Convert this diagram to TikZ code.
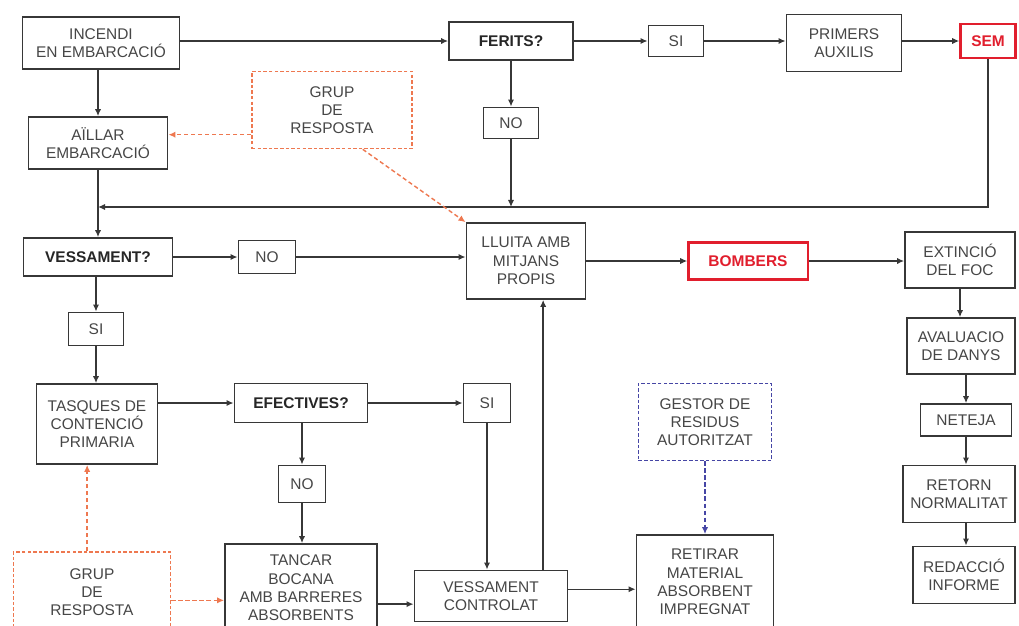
\documentclass[tikz,border=0pt]{standalone}
\usepackage{fontspec}
\setmainfont{Liberation Sans}
\usepackage{xcolor}
\usepackage{tikz}
\usetikzlibrary{arrows.meta, positioning, calc}
\definecolor{boxgray}{RGB}{55, 55, 55}
\definecolor{txtgray}{RGB}{70, 70, 70}
\definecolor{alertred}{RGB}{225, 30, 45}
\definecolor{grouporange}{RGB}{238, 120, 80}
\definecolor{gestorblue}{RGB}{70, 70, 165}
\tikzstyle{box} = [draw=boxgray, line width=1.2pt, fill=white, align=center, inner sep=2pt, text=txtgray, font=\fontsize{11}{13}\selectfont]
\tikzstyle{question} = [box, font=\fontsize{11}{13}\selectfont\bfseries, text=black!85]
\tikzstyle{alert} = [box, draw=alertred, line width=1.6pt, text=alertred, font=\fontsize{11}{13}\selectfont\bfseries]
\tikzstyle{group} = [box, draw=grouporange, line width=1pt, dash pattern=on 2.5pt off 1.5pt]
\tikzstyle{gestor} = [box, draw=gestorblue, line width=1pt, dash pattern=on 2.5pt off 1.5pt]
\tikzstyle{arrow} = [-{Latex[length=5pt, width=4.5pt]}, line width=1pt, draw=boxgray]
\tikzstyle{dasharrow} = [-{Latex[length=5pt, width=4.5pt]}, line width=1pt, draw=grouporange, dash pattern=on 3pt off 2pt]
\tikzstyle{bluearrow} = [-{Latex[length=5pt, width=4.5pt]}, line width=1pt, draw=gestorblue, dash pattern=on 3pt off 2pt]

\begin{document}
\begin{tikzpicture}[x=0.025cm, y=-0.025cm]
    \useasboundingbox[fill=white] (0,0) rectangle (1019,625);

    % Top row
    \node[box, minimum width=3.93cm, minimum height=1.3cm] (incendi) at (101,43) {INCENDI\\EN EMBARCACIÓ};
    \node[question, minimum width=3.1cm, minimum height=0.95cm] (ferits) at (511,41) {FERITS?};
    \node[box, minimum width=1.38cm, minimum height=0.78cm] (si1) at (676,41) {SI};
    \node[box, minimum width=2.88cm, minimum height=1.43cm] (primers) at (844,43) {PRIMERS\\AUXILIS};
    \node[alert, minimum width=1.38cm, minimum height=0.85cm] (sem) at (988,41) {SEM};

    \node[group, minimum width=4cm, minimum height=1.93cm] (grup1) at (332,110) {GRUP\\DE\\RESPOSTA};
    \node[box, minimum width=3.48cm, minimum height=1.3cm] (aillar) at (98,143) {AÏLLAR\\EMBARCACIÓ};
    \node[box, minimum width=1.38cm, minimum height=0.78cm] (no1) at (511,123) {NO};
    \coordinate (join) at (98,207);

    % Middle row
    \node[question, minimum width=3.73cm, minimum height=0.95cm] (vessament) at (98,257) {VESSAMENT?};
    \node[box, minimum width=1.43cm, minimum height=0.83cm] (no2) at (267,257) {NO};
    \node[box, minimum width=2.98cm, minimum height=1.9cm] (lluita) at (526,261) {LLUITA AMB\\MITJANS\\PROPIS};
    \node[alert, minimum width=2.98cm, minimum height=0.93cm] (bombers) at (748,261) {BOMBERS};
    \node[box, minimum width=2.75cm, minimum height=1.4cm] (extincio) at (960,260) {EXTINCIÓ\\DEL FOC};
    \node[box, minimum width=2.7cm, minimum height=1.4cm] (avaluacio) at (961,346) {AVALUACIO\\DE DANYS};
    \node[box, minimum width=2.28cm, minimum height=0.8cm] (neteja) at (966,420) {NETEJA};
    \node[box, minimum width=2.8cm, minimum height=1.43cm] (retorn) at (959,494) {RETORN\\NORMALITAT};
    \node[box, minimum width=2.55cm, minimum height=1.43cm] (redaccio) at (964,575) {REDACCIÓ\\INFORME};

    % Spill branch
    \node[box, minimum width=1.38cm, minimum height=0.83cm] (si2) at (96,329) {SI};
    \node[box, minimum width=3.03cm, minimum height=2cm] (tasques) at (97,424) {TASQUES DE\\CONTENCIÓ\\PRIMARIA};
    \node[question, minimum width=3.33cm, minimum height=0.98cm] (efectives) at (301,403) {EFECTIVES?};
    \node[box, minimum width=1.18cm, minimum height=0.98cm] (si3) at (487,403) {SI};
    \node[box, minimum width=1.18cm, minimum height=0.93cm] (no3) at (302,484) {NO};
    \node[gestor, minimum width=3.33cm, minimum height=1.93cm] (gestor) at (705,422) {GESTOR DE\\RESIDUS\\AUTORITZAT};

    % Bottom row
    \node[group, minimum width=3.93cm, minimum height=2cm] (grup2) at (92,592) {GRUP\\DE\\RESPOSTA};
    \node[box, minimum width=3.8cm, minimum height=2.2cm] (tancar) at (301,588) {TANCAR\\BOCANA\\AMB BARRERES\\ABSORBENTS};
    \node[box, minimum width=3.83cm, minimum height=1.28cm] (vcontrolat) at (491,596) {VESSAMENT\\CONTROLAT};
    \node[box, minimum width=3.43cm, minimum height=2.35cm] (retirar) at (705,582) {RETIRAR\\MATERIAL\\ABSORBENT\\IMPREGNAT};

    % Connectors
    \draw[arrow] (incendi.east |- ferits) -- (ferits.west);
    \draw[arrow] (ferits) -- (si1);
    \draw[arrow] (si1) -- (primers.west |- si1);
    \draw[arrow] (primers.east |- sem) -- (sem);
    \draw[arrow] (incendi.south -| aillar) -- (aillar);
    \draw[arrow] (ferits) -- (no1);
    \draw[arrow] (no1.south) -- (no1.south |- join);
    \draw[arrow] (sem.south) |- (join);
    \draw[arrow] (aillar) -- (vessament);
    \draw[dasharrow] (grup1.197) -- (grup1.197 -| aillar.east);
    \draw[dasharrow] (grup1.308) -- (lluita.north west);

    \draw[arrow] (vessament) -- (no2);
    \draw[arrow] (no2) -- (no2 -| lluita.west);
    \draw[arrow] (lluita) -- (bombers);
    \draw[arrow] (bombers) -- (bombers -| extincio.west);
    \draw[arrow] (extincio) -- (extincio.south |- avaluacio.north);
    \draw[arrow] (neteja.north |- avaluacio.south) -- (neteja);
    \draw[arrow] (neteja) -- (neteja.south |- retorn.north);
    \draw[arrow] (neteja.south |- retorn.south) -- (neteja.south |- redaccio.north);

    \draw[arrow] (vessament.south -| si2) -- (si2);
    \draw[arrow] (si2) -- (si2.south |- tasques.north);
    \draw[arrow] (tasques.east |- efectives) -- (efectives);
    \draw[arrow] (efectives) -- (si3);
    \draw[arrow] (efectives.south -| no3) -- (no3);
    \draw[arrow] (no3) -- (no3.south |- tancar.north);
    \draw[arrow] (si3) -- (si3.south |- vcontrolat.north);
    \draw[arrow] (vcontrolat.186 -| tancar.east) -- (vcontrolat.186);
    \draw[arrow] ([xshift=-18pt]vcontrolat.north east) -- ([xshift=-18pt]vcontrolat.north east |- lluita.south);
    \draw[arrow] (vcontrolat.5) -- (vcontrolat.5 -| retirar.west);
    \draw[bluearrow] (gestor) -- (retirar);
    \draw[dasharrow] (grup2.north -| tasques.south) ++(-7pt,0) coordinate (g2top) -- (g2top |- tasques.south);
    \draw[dasharrow] (grup2.354) -- (grup2.354 -| tancar.west);
\end{tikzpicture}
\end{document}
